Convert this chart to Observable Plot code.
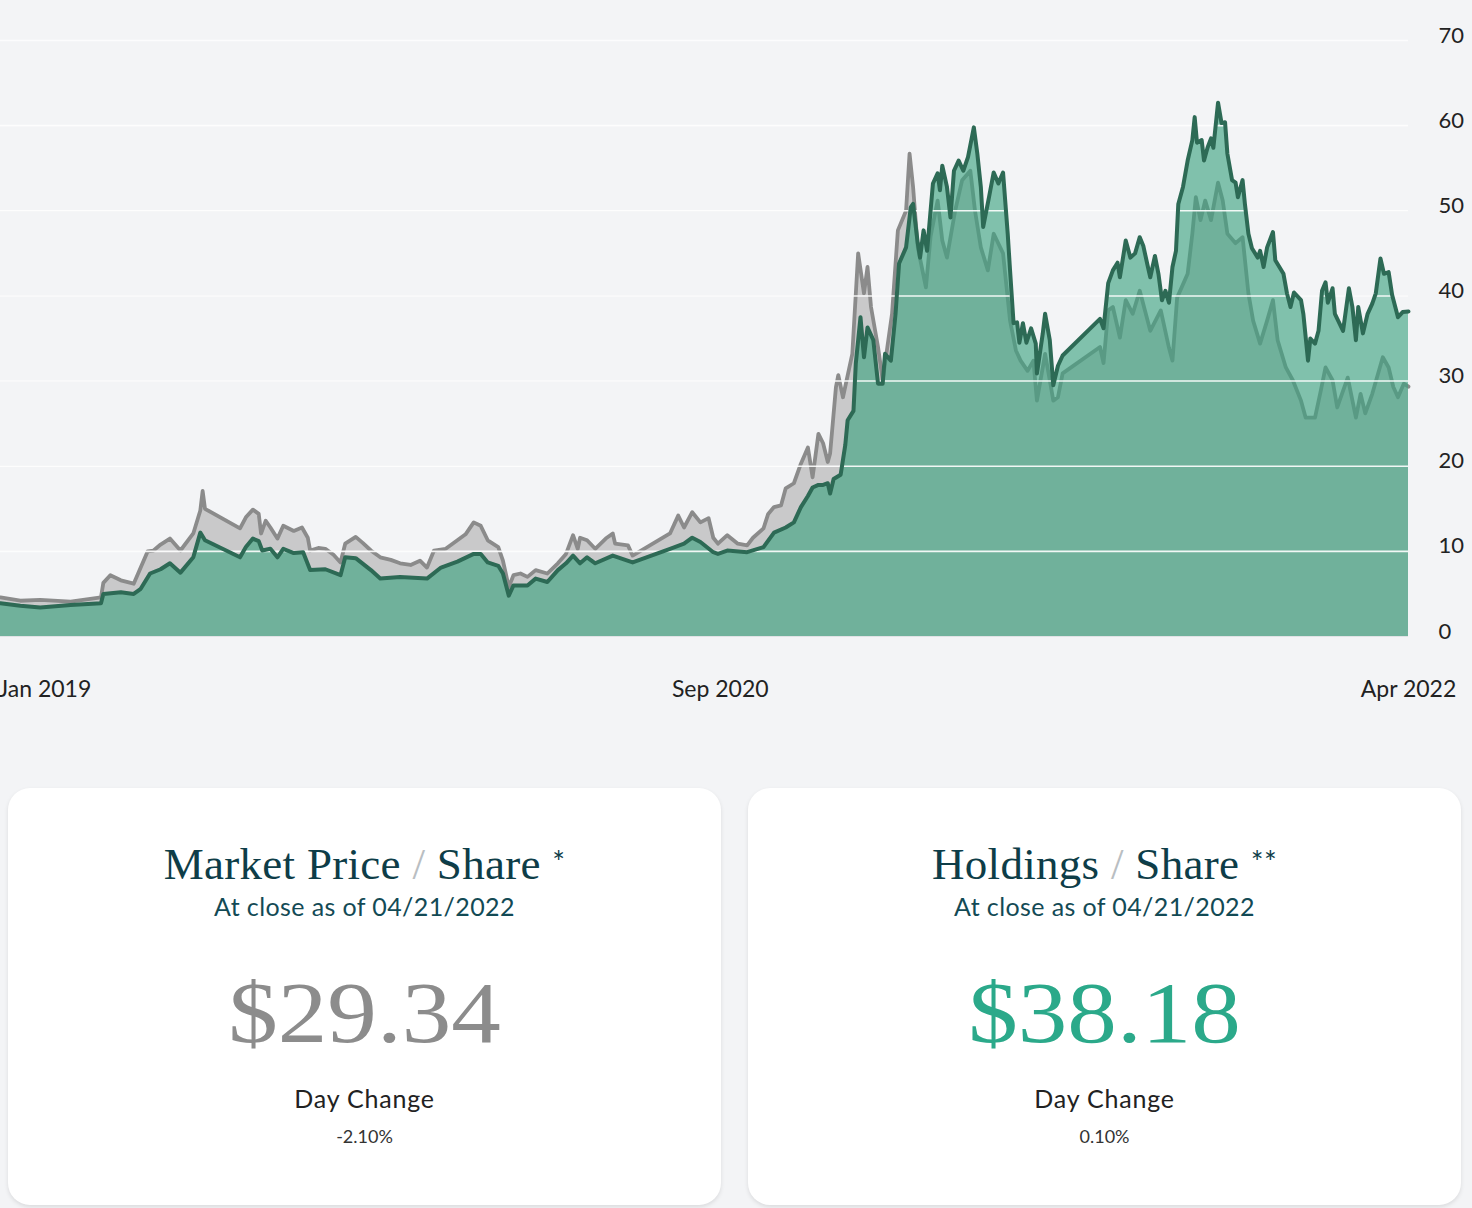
<!DOCTYPE html>
<html>
<head>
<meta charset="utf-8">
<script src="https://cdn.jsdelivr.net/npm/d3@7"></script>
<script src="https://cdn.jsdelivr.net/npm/@observablehq/plot@0.6"></script>
<style>
  html, body { margin: 0; padding: 0; }
  body { background: #f3f4f6; width: 1472px; height: 1208px; overflow: hidden; position: relative; font-family: Lato, "Open Sans", sans-serif; }
  #chart { position: absolute; left: 0; top: 0; }
  .card { position: absolute; top: 788px; width: 713px; height: 417px; background: #fff; border-radius: 22px; box-shadow: 0 2px 4px rgba(0,0,0,0.10); text-align: center; }
  .title { position: absolute; left: 0; right: 0; font-family: "Liberation Serif", serif; font-size: 45px; color: #0e3d48; line-height: 50px; letter-spacing: 0.3px; }
  .title .slash { color: #b9bec2; font-weight: 300; }
  .title .star { font-family: Lato, sans-serif; font-size: 30px; vertical-align: 6px; color: #0e3d48; }
  .sub { position: absolute; left: 0; right: 0; font-size: 25px; color: #134a55; line-height: 30px; letter-spacing: 0.4px; }
  .big { position: absolute; left: 0; right: 0; font-family: "Liberation Serif", serif; font-size: 87px; line-height: 100px; transform: scaleX(1.14); }
  .dc { position: absolute; left: 0; right: 0; font-size: 25px; color: #222; line-height: 30px; letter-spacing: 0.8px; }
  .pct { position: absolute; left: 0; right: 0; font-size: 18px; color: #333; line-height: 24px; }
</style>
</head>
<body>
<div id="chart"></div>
<div id="cards"></div>
<script>
// ---- Data ----
const marketPrice = [
["2019-01-02",4.6],["2019-01-19",4.2],["2019-02-05",4.3],["2019-03-03",4.1],["2019-03-29",4.6],["2019-03-31",6.3],
["2019-04-06",7.2],["2019-04-15",6.6],["2019-04-26",6.2],["2019-05-08",10.0],["2019-05-13",10.1],["2019-05-19",10.8],
["2019-05-27",11.5],["2019-06-05",10.1],["2019-06-16",12.1],["2019-06-22",14.8],["2019-06-24",17.1],["2019-06-26",15.0],
["2019-07-26",12.7],["2019-07-31",14.0],["2019-08-06",14.9],["2019-08-11",14.4],["2019-08-13",12.1],["2019-08-17",13.6],
["2019-08-21",12.8],["2019-08-27",11.5],["2019-09-01",13.0],["2019-09-10",12.4],["2019-09-17",12.8],["2019-09-22",11.6],
["2019-09-24",10.1],["2019-10-01",10.4],["2019-10-07",10.3],["2019-10-14",9.6],["2019-10-20",8.7],["2019-10-24",10.9],
["2019-11-02",11.7],["2019-11-08",11.0],["2019-11-15",10.1],["2019-11-23",9.3],["2019-12-02",9.0],["2019-12-10",8.6],
["2019-12-19",8.4],["2019-12-27",8.9],["2020-01-02",8.1],["2020-01-08",10.1],["2020-01-18",10.3],["2020-01-28",11.3],
["2020-02-04",12.0],["2020-02-11",13.4],["2020-02-17",13.0],["2020-02-23",11.3],["2020-03-03",10.5],["2020-03-07",8.9],
["2020-03-12",5.8],["2020-03-16",7.2],["2020-03-22",7.4],["2020-03-28",7.0],["2020-04-04",7.8],["2020-04-14",7.4],
["2020-04-23",8.6],["2020-04-30",9.7],["2020-05-06",11.9],["2020-05-10",10.3],["2020-05-12",11.6],["2020-05-18",11.3],
["2020-05-25",10.3],["2020-06-03",11.5],["2020-06-09",12.1],["2020-06-11",10.9],["2020-06-22",10.7],["2020-06-26",9.5],
["2020-07-28",12.1],["2020-08-04",14.2],["2020-08-09",12.8],["2020-08-16",14.6],["2020-08-23",13.4],["2020-08-30",13.9],
["2020-09-03",11.6],["2020-09-07",10.9],["2020-09-15",11.9],["2020-09-24",10.9],["2020-10-02",10.7],["2020-10-07",11.6],
["2020-10-16",12.7],["2020-10-20",14.4],["2020-10-25",15.2],["2020-10-31",15.4],["2020-11-04",17.4],["2020-11-11",18.0],
["2020-11-17",20.3],["2020-11-23",22.2],["2020-11-27",18.7],["2020-12-02",23.8],["2020-12-06",22.7],["2020-12-10",20.5],
["2020-12-12",21.5],["2020-12-17",29.3],["2020-12-19",30.7],["2020-12-23",28.1],["2020-12-31",33.2],["2021-01-05",45.0],
["2021-01-10",40.3],["2021-01-13",43.4],["2021-01-16",38.7],["2021-01-22",34.0],["2021-01-26",30.1],["2021-01-30",34.0],
["2021-02-03",37.9],["2021-02-08",47.7],["2021-02-15",50.0],["2021-02-18",56.7],["2021-02-21",52.8],["2021-02-25",45.7],
["2021-03-04",41.0],["2021-03-08",47.0],["2021-03-14",51.2],["2021-03-18",46.5],["2021-03-22",44.5],["2021-03-29",50.0],
["2021-04-04",53.6],["2021-04-11",54.7],["2021-04-15",50.0],["2021-04-20",45.7],["2021-04-26",43.0],["2021-05-01",47.3],
["2021-05-09",45.0],["2021-05-15",37.1],["2021-05-20",33.6],["2021-05-24",32.4],["2021-05-30",31.2],["2021-06-04",32.4],
["2021-06-07",27.7],["2021-06-12",31.6],["2021-06-14",33.2],["2021-06-19",29.3],["2021-06-21",27.7],["2021-06-25",28.1],
["2021-06-29",30.9],["2021-07-31",34.0],["2021-08-03",32.1],["2021-08-07",38.3],["2021-08-11",38.7],["2021-08-17",35.1],
["2021-08-22",39.5],["2021-08-28",37.9],["2021-09-03",40.6],["2021-09-12",35.9],["2021-09-21",38.3],["2021-09-28",33.9],
["2021-10-01",32.4],["2021-10-05",39.8],["2021-10-14",42.6],["2021-10-18",47.3],["2021-10-21",51.6],["2021-10-25",48.9],
["2021-10-29",51.2],["2021-11-03",48.9],["2021-11-09",53.3],["2021-11-13",51.2],["2021-11-17",47.3],["2021-11-24",46.2],
["2021-11-30",46.9],["2021-12-05",40.3],["2021-12-09",37.1],["2021-12-15",34.4],["2021-12-21",37.1],["2021-12-26",39.5],
["2021-12-30",34.8],["2022-01-06",31.6],["2022-01-12",30.1],["2022-01-19",27.7],["2022-01-23",25.7],["2022-01-31",25.7],
["2022-02-05",28.9],["2022-02-09",31.6],["2022-02-15",30.1],["2022-02-19",26.9],["2022-02-28",30.4],["2022-03-07",25.7],
["2022-03-11",28.5],["2022-03-15",26.2],["2022-03-21",28.5],["2022-03-26",30.9],["2022-03-30",32.8],["2022-04-04",31.6],
["2022-04-08",29.3],["2022-04-12",28.1],["2022-04-17",29.7],["2022-04-21",29.34]
];

const holdingsPerShare = [
["2019-01-02",3.9],["2019-01-19",3.6],["2019-02-05",3.4],["2019-03-03",3.7],["2019-03-29",3.9],["2019-03-31",5.0],
["2019-04-15",5.2],["2019-04-26",5.0],["2019-05-02",5.6],["2019-05-10",7.4],["2019-05-19",7.9],["2019-05-27",8.6],
["2019-06-05",7.5],["2019-06-16",9.3],["2019-06-22",12.2],["2019-06-26",11.3],["2019-07-26",9.3],["2019-07-31",10.5],
["2019-08-06",11.5],["2019-08-11",11.2],["2019-08-14",10.1],["2019-08-21",10.3],["2019-08-27",9.3],["2019-09-01",10.3],
["2019-09-10",9.8],["2019-09-18",9.9],["2019-09-24",7.8],["2019-10-07",7.9],["2019-10-20",7.2],["2019-10-24",9.3],
["2019-11-02",9.2],["2019-11-15",7.8],["2019-11-23",6.8],["2019-12-10",7.0],["2020-01-02",6.8],["2020-01-14",8.1],
["2020-01-28",8.8],["2020-02-11",9.7],["2020-02-17",9.7],["2020-02-23",8.7],["2020-03-03",8.3],["2020-03-07",7.4],
["2020-03-12",4.8],["2020-03-16",6.0],["2020-03-28",6.0],["2020-04-04",6.8],["2020-04-14",6.4],["2020-04-23",7.8],
["2020-04-30",8.6],["2020-05-06",9.5],["2020-05-12",8.6],["2020-05-18",9.3],["2020-05-25",8.6],["2020-06-09",9.5],
["2020-06-26",8.7],["2020-07-28",10.3],["2020-08-09",10.9],["2020-08-16",11.6],["2020-08-23",11.1],["2020-09-03",9.9],
["2020-09-07",9.7],["2020-09-15",10.1],["2020-10-02",9.9],["2020-10-16",10.5],["2020-10-25",12.2],["2020-11-04",12.8],
["2020-11-11",13.4],["2020-11-17",15.2],["2020-11-23",16.5],["2020-11-27",17.5],["2020-12-02",17.8],["2020-12-06",17.8],
["2020-12-10",18.0],["2020-12-12",16.8],["2020-12-15",18.5],["2020-12-21",19.0],["2020-12-25",22.5],["2020-12-27",25.4],
["2021-01-01",26.5],["2021-01-03",32.1],["2021-01-07",37.5],["2021-01-10",32.8],["2021-01-13",36.3],["2021-01-18",34.8],
["2021-01-22",29.7],["2021-01-26",29.7],["2021-01-28",33.2],["2021-02-02",32.4],["2021-02-06",37.9],["2021-02-09",43.8],
["2021-02-15",45.7],["2021-02-19",50.4],["2021-02-21",50.8],["2021-02-25",46.2],["2021-02-27",44.5],["2021-03-02",47.7],
["2021-03-05",45.3],["2021-03-10",53.2],["2021-03-14",54.4],["2021-03-16",52.4],["2021-03-18",55.3],["2021-03-22",52.8],
["2021-03-25",49.2],["2021-03-28",54.7],["2021-04-01",55.9],["2021-04-05",54.7],["2021-04-09",56.3],["2021-04-14",59.8],
["2021-04-17",56.7],["2021-04-20",52.8],["2021-04-22",48.1],["2021-04-27",51.6],["2021-05-01",54.5],["2021-05-05",53.2],
["2021-05-09",54.5],["2021-05-13",47.3],["2021-05-15",43.0],["2021-05-18",36.8],["2021-05-21",36.9],["2021-05-23",34.5],
["2021-05-26",36.8],["2021-05-29",34.5],["2021-06-02",36.2],["2021-06-06",34.4],["2021-06-07",30.9],["2021-06-12",35.6],
["2021-06-14",37.9],["2021-06-18",34.8],["2021-06-21",29.5],["2021-06-25",31.8],["2021-06-29",33.0],["2021-07-31",37.3],
["2021-08-03",36.2],["2021-08-07",41.5],["2021-08-11",43.0],["2021-08-15",43.9],["2021-08-17",42.2],["2021-08-22",46.5],
["2021-08-26",44.5],["2021-08-30",45.0],["2021-09-03",46.9],["2021-09-06",45.9],["2021-09-10",43.4],["2021-09-12",42.2],
["2021-09-16",44.7],["2021-09-19",42.6],["2021-09-22",39.5],["2021-09-25",40.6],["2021-09-28",39.2],["2021-10-01",43.4],
["2021-10-04",45.3],["2021-10-06",50.8],["2021-10-10",52.8],["2021-10-14",55.9],["2021-10-18",58.3],["2021-10-20",61.0],
["2021-10-22",58.0],["2021-10-26",58.3],["2021-10-28",55.9],["2021-10-31",57.4],["2021-11-03",58.5],["2021-11-05",57.4],
["2021-11-09",62.7],["2021-11-12",60.3],["2021-11-15",60.4],["2021-11-17",56.7],["2021-11-21",53.6],["2021-11-24",53.3],
["2021-11-26",51.6],["2021-11-30",53.6],["2021-12-02",50.8],["2021-12-05",47.3],["2021-12-08",45.6],["2021-12-13",44.5],
["2021-12-15",45.3],["2021-12-18",43.4],["2021-12-21",45.7],["2021-12-26",47.5],["2021-12-28",44.2],["2022-01-04",42.6],
["2022-01-07",40.3],["2022-01-10",38.7],["2022-01-13",40.4],["2022-01-19",39.5],["2022-01-21",37.9],["2022-01-25",32.4],
["2022-01-27",35.0],["2022-01-31",34.4],["2022-02-03",35.9],["2022-02-06",40.6],["2022-02-09",41.6],["2022-02-11",39.2],
["2022-02-15",40.9],["2022-02-17",37.9],["2022-02-24",35.9],["2022-03-01",40.9],["2022-03-04",38.7],["2022-03-07",34.8],
["2022-03-09",38.7],["2022-03-13",35.6],["2022-03-17",37.9],["2022-03-21",39.1],["2022-03-24",40.3],["2022-03-28",44.4],
["2022-03-31",42.6],["2022-04-04",42.8],["2022-04-07",40.1],["2022-04-12",37.5],["2022-04-16",38.1],["2022-04-21",38.18]
];

const yTicks = [0, 10, 20, 30, 40, 50, 60, 70];
const xTickDates = ["2019-01-02", "2020-09-09", "2022-04-21"];
const xTickLabels = ["Jan 2019", "Sep 2020", "Apr 2022"];

const cardTitles = ["Market Price", "Holdings"];
const cardStars = ["*", "**"];
const asOfDate = "04/21/2022";
const cardValues = ["$29.34", "$38.18"];
const dayChanges = ["-2.10%", "0.10%"];

// ---- Build ----
const parse = d3.utcParse("%Y-%m-%d");
const market = marketPrice.map(([d, v]) => ({date: parse(d), value: v}));
const holdings = holdingsPerShare.map(([d, v]) => ({date: parse(d), value: v}));
const xTicks = xTickDates.map((d, i) => ({date: parse(d), label: xTickLabels[i]}));

const plot = Plot.plot({
  width: 1472,
  height: 710,
  marginLeft: 0,
  marginRight: 64,
  marginTop: 40,
  marginBottom: 74,
  style: {background: "transparent", fontFamily: "Lato, 'Open Sans', sans-serif", fontSize: "22px", color: "#222"},
  x: {type: "utc", domain: [market[0].date, market[market.length - 1].date], axis: null},
  y: {domain: [0, 70], ticks: 7, axis: "right", tickSize: 0, tickPadding: 30, label: null, tickFormat: d3.format("d")},
  marks: [
    Plot.ruleY(yTicks, {stroke: "#e0e2e5", strokeWidth: 1}),
    Plot.areaY(market, {x: "date", y: "value", fill: "#c9c9ca"}),
    Plot.lineY(market, {x: "date", y: "value", stroke: "#8b8b8b", strokeWidth: 3.8}),
    Plot.areaY(holdings, {x: "date", y: "value", fill: "#3ca381", fillOpacity: 0.63}),
    Plot.ruleY(yTicks.slice(1), {stroke: "#ffffff", strokeWidth: 1.6, strokeOpacity: 0.9}),
    Plot.lineY(holdings, {x: "date", y: "value", stroke: "#2d6a55", strokeWidth: 4}),
    Plot.text(xTicks.slice(0, 1), {x: "date", text: "label", frameAnchor: "bottom", dy: 60, textAnchor: "start", dx: -2, fill: "#222", fontSize: 23}),
    Plot.text(xTicks.slice(1), {x: "date", text: "label", frameAnchor: "bottom", dy: 60, textAnchor: "middle", fill: "#222", fontSize: 23})
  ]
});
document.getElementById("chart").appendChild(plot);

// clip the white grid lines to the filled areas
const svg = d3.select(plot);
const defs = svg.insert("defs", ":first-child");
const clip = defs.append("clipPath").attr("id", "areaClip");
svg.selectAll('g[aria-label="area"]').each(function () {
  const t = this.getAttribute("transform");
  d3.select(this).selectAll("path").each(function () {
    const p = clip.append("path").attr("d", this.getAttribute("d"));
    if (t) p.attr("transform", t);
  });
});
const rules = svg.selectAll('g[aria-label="rule-y"]').nodes();
if (rules.length > 1) {
  const white = rules[1];
  const wrap = document.createElementNS("http://www.w3.org/2000/svg", "g");
  white.parentNode.insertBefore(wrap, white);
  wrap.appendChild(white);
  wrap.setAttribute("clip-path", "url(#areaClip)");
}
svg.selectAll('g[aria-label="y-axis tick label"]').attr("transform", function () {
  const t = this.getAttribute("transform") || "";
  return t + " translate(0,-5)";
});

// ---- Cards ----
const cards = document.getElementById("cards");
const lefts = [8, 748];
const colors = ["#8c8c8c", "#2ba98a"];
cardTitles.forEach((title, i) => {
  const c = document.createElement("div");
  c.className = "card";
  c.style.left = lefts[i] + "px";
  c.innerHTML = `
    <div class="title" style="top:48px">${title} <span class="slash">/</span> Share <span class="star">${cardStars[i]}</span></div>
    <div class="sub" style="top:103px">At close as of ${asOfDate}</div>
    <div class="big" style="top:175px;color:${colors[i]}">${cardValues[i]}</div>
    <div class="dc" style="top:295px">Day Change</div>
    <div class="pct" style="top:336px">${dayChanges[i]}</div>`;
  cards.appendChild(c);
});
</script>
</body>
</html>
